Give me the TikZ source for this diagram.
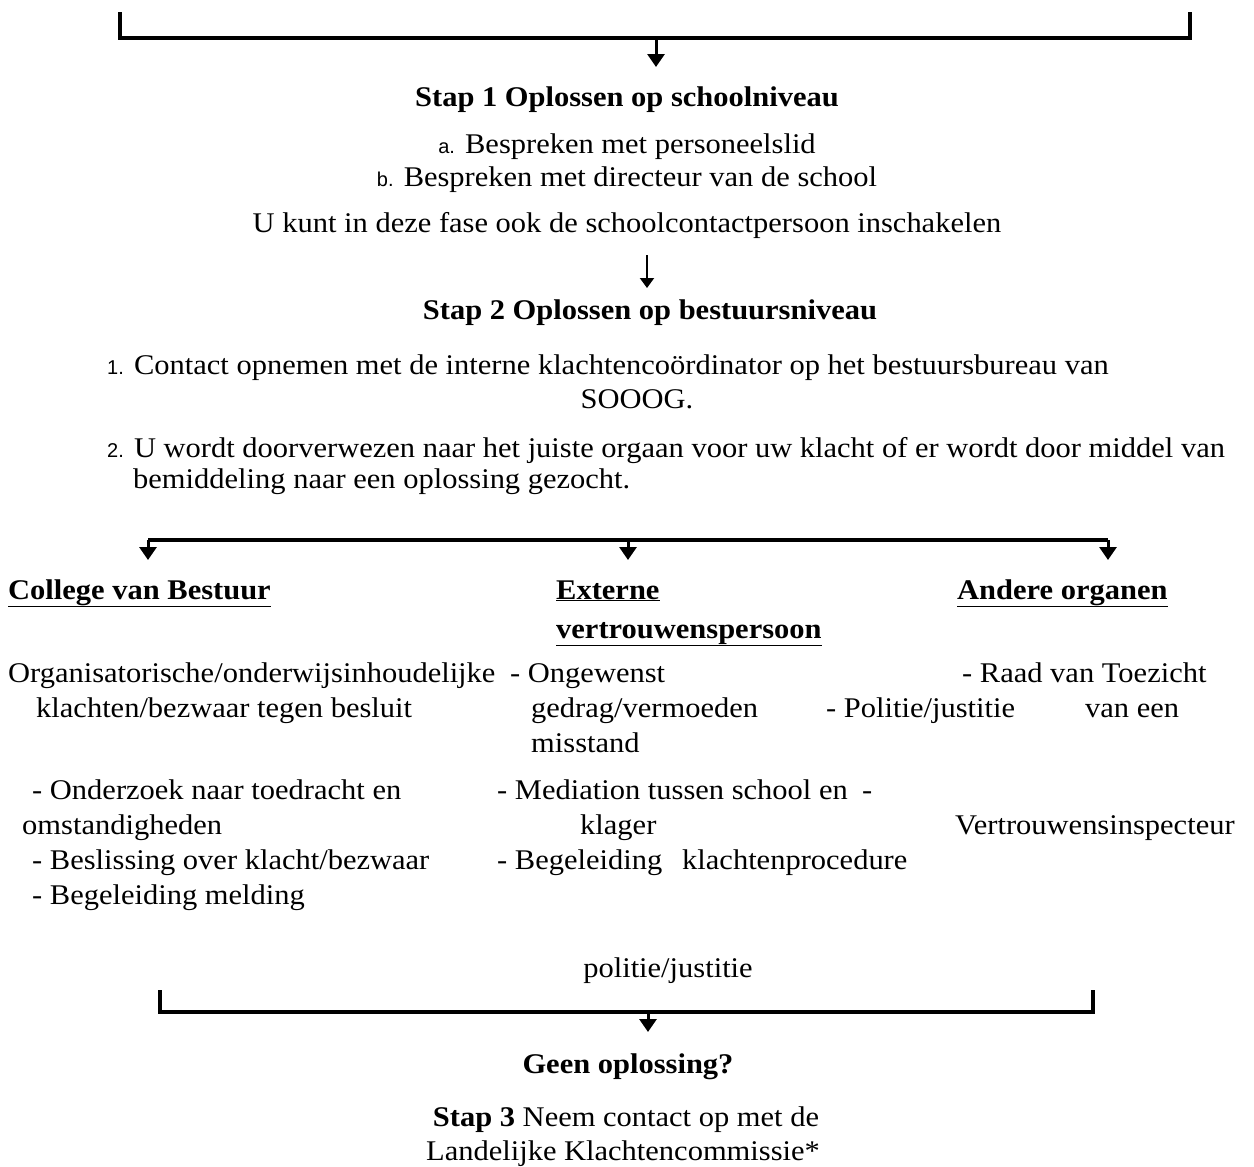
\documentclass[tikz,border=0pt]{standalone}
\usepackage{fontspec}
\setmainfont{Liberation Serif}[FakeStretch=1.07]
\newfontfamily\merk{Liberation Sans}
\usetikzlibrary{arrows.meta}
\tikzset{
  txt/.style={inner sep=0pt, font=\fontsize{28.5}{28.5}\selectfont},
  kop/.style={inner sep=0pt, font=\fontsize{28.5}{28.5}\selectfont\bfseries},
  lijn/.style={line width=3.5pt},
  pijl/.style={line width=3pt, -{Triangle[width=17pt,length=13pt]}},
}
\newcommand{\mk}[1]{{\merk\fontsize{20}{20}\selectfont #1}}
\begin{document}
\begin{tikzpicture}[x=1pt,y=-1pt]
  \useasboundingbox (0,0) rectangle (1254,1167);
  % bovenste haak
  \coordinate (tl) at (120,12);
  \coordinate (tr) at (1190,12);
  \coordinate (tm) at (656,38);
  \coordinate (tp) at (656,67);
  \draw[lijn] (tl) |- (tm) -| (tr);
  \draw[pijl] (tm) -- (tp);
  % stap 1
  \node[kop, anchor=base] (stap1) at (627,106) {Stap 1 Oplossen op schoolniveau};
  \node[txt, anchor=base] (a) at (627,153) {\mk{a.} Bespreken met personeelslid};
  \node[txt, anchor=base] (b) at (627,186) {\mk{b.} Bespreken met directeur van de school};
  \node[txt, anchor=base] (u) at (627,232) {U kunt in deze fase ook de schoolcontactpersoon inschakelen};
  \coordinate (p2) at (647,255);
  \coordinate (p2e) at (647,288);
  \draw[line width=2pt, -{Triangle[width=14pt,length=10pt]}] (p2) -- (p2e);
  % stap 2
  \node[kop, anchor=base] (stap2) at (650,319) {Stap 2 Oplossen op bestuursniveau};
  \node[txt, anchor=base west] (een) at (107,374) {\mk{1.} Contact opnemen met de interne klachtencoördinator op het bestuursbureau van};
  \node[txt, anchor=base] (sooog) at (637,408) {SOOOG.};
  \node[txt, anchor=base west] (twee) at (107,457) {\mk{2.} U wordt doorverwezen naar het juiste orgaan voor uw klacht of er wordt door middel van};
  \node[txt, anchor=base west] (bemid) at (133,488) {bemiddeling naar een oplossing gezocht.};
  % splitsing
  \coordinate (sl) at (148,540);
  \coordinate (sm) at (628,540);
  \coordinate (sr) at (1108,540);
  \draw[lijn] (sl) -- (sr);
  \foreach \k in {sl,sm,sr}
    \draw[pijl] (\k) -- ++(0,20);
  % kolommen
  \node[kop, anchor=base west] (cvb) at (8,599) {\underline{College van Bestuur}};
  \node[kop, anchor=base west] (evp) at (556,599) {\underline{Externe}};
  \node[kop, anchor=base west] (evp2) at (556,638) {\underline{vertrouwenspersoon}};
  \node[kop, anchor=base west] (ao) at (957,599) {\underline{Andere organen}};
  \node[txt, anchor=base west] (c1) at (8,682) {Organisatorische/onderwijsinhoudelijke};
  \node[txt, anchor=base west] (c2) at (36,717) {klachten/bezwaar tegen besluit};
  \node[txt, anchor=base west] (c3) at (32,799) {- Onderzoek naar toedracht en};
  \node[txt, anchor=base west] (c4) at (22,834) {omstandigheden};
  \node[txt, anchor=base west] (c5) at (32,869) {- Beslissing over klacht/bezwaar};
  \node[txt, anchor=base west] (c6) at (32,904) {- Begeleiding melding};
  \node[txt, anchor=base west] (e1) at (510,682) {- Ongewenst};
  \node[txt, anchor=base west] (e2) at (531,717) {gedrag/vermoeden};
  \node[txt, anchor=base west] (e3) at (531,752) {misstand};
  \node[txt, anchor=base west] (e4) at (497,799) {- Mediation tussen school en};
  \node[txt, anchor=base west] (e5) at (580,834) {klager};
  \node[txt, anchor=base west] (e6) at (497,869) {- Begeleiding};
  \node[txt, anchor=base west] (e7) at (682,869) {klachtenprocedure};
  \node[txt, anchor=base] (pj) at (668,977) {politie/justitie};
  \node[txt, anchor=base west] (a1) at (962,682) {- Raad van Toezicht};
  \node[txt, anchor=base west] (a2) at (826,717) {- Politie/justitie};
  \node[txt, anchor=base west] (a3) at (1085,717) {van een};
  \node[txt, anchor=base west] (a4) at (862,799) {-};
  \node[txt, anchor=base west] (a5) at (955,834) {Vertrouwensinspecteur};
  % onderste haak
  \coordinate (bl) at (160,990);
  \coordinate (br) at (1093,990);
  \coordinate (bm) at (648,1012);
  \coordinate (bp) at (648,1032);
  \draw[lijn] (bl) |- (bm) -| (br);
  \draw[pijl] (bm) -- (bp);
  % stap 3
  \node[kop, anchor=base] (geen) at (628,1073) {Geen oplossing?};
  \node[txt, anchor=base] (s3a) at (626,1126) {\textbf{Stap 3} Neem contact op met de};
  \node[txt, anchor=base] (s3b) at (623,1160) {Landelijke Klachtencommissie*};
\end{tikzpicture}
\end{document}
